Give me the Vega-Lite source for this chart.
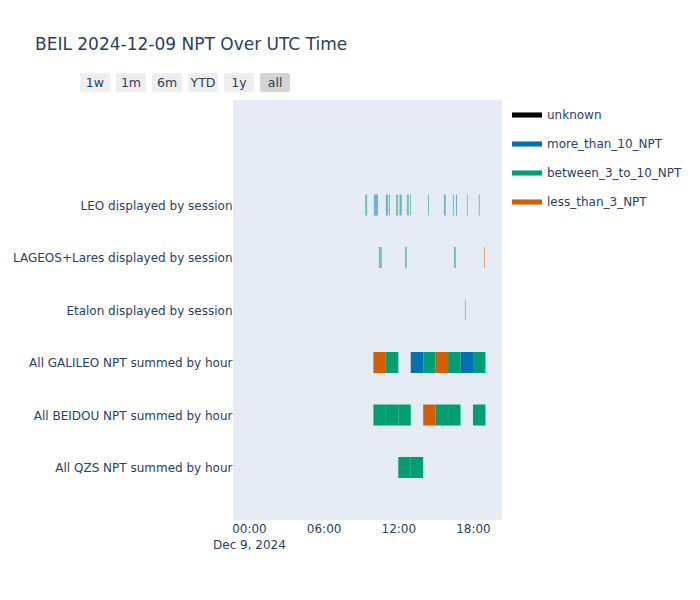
{
  "$schema": "https://vega.github.io/schema/vega-lite/v6.json",
  "background": "white",
  "padding": {"left": 12, "top": 36, "right": 5, "bottom": 5},
  "title": {"text": "BEIL 2024-12-09 NPT Over UTC Time", "anchor": "start", "frame": "group", "fontSize": 17, "fontWeight": "normal", "color": "#2a3f5f", "font": "DejaVu Sans", "dx": -198, "offset": 19},
  "config": {"font": "DejaVu Sans", "view": {"stroke": null}},
  "datasets": {
    "buttons": [
      {"label": "1w"}, {"label": "1m"}, {"label": "6m"}, {"label": "YTD"}, {"label": "1y"}, {"label": "all"}
    ],
    "hourly": [
      {"row": "All GALILEO NPT summed by hour", "start": "2024-12-09T10:00:00Z", "end": "2024-12-09T11:00:00Z", "npt": "less_than_3_NPT"},
      {"row": "All GALILEO NPT summed by hour", "start": "2024-12-09T11:00:00Z", "end": "2024-12-09T12:00:00Z", "npt": "between_3_to_10_NPT"},
      {"row": "All GALILEO NPT summed by hour", "start": "2024-12-09T13:00:00Z", "end": "2024-12-09T14:00:00Z", "npt": "more_than_10_NPT"},
      {"row": "All GALILEO NPT summed by hour", "start": "2024-12-09T14:00:00Z", "end": "2024-12-09T15:00:00Z", "npt": "between_3_to_10_NPT"},
      {"row": "All GALILEO NPT summed by hour", "start": "2024-12-09T15:00:00Z", "end": "2024-12-09T16:00:00Z", "npt": "less_than_3_NPT"},
      {"row": "All GALILEO NPT summed by hour", "start": "2024-12-09T16:00:00Z", "end": "2024-12-09T17:00:00Z", "npt": "between_3_to_10_NPT"},
      {"row": "All GALILEO NPT summed by hour", "start": "2024-12-09T17:00:00Z", "end": "2024-12-09T18:00:00Z", "npt": "more_than_10_NPT"},
      {"row": "All GALILEO NPT summed by hour", "start": "2024-12-09T18:00:00Z", "end": "2024-12-09T19:00:00Z", "npt": "between_3_to_10_NPT"},
      {"row": "All BEIDOU NPT summed by hour", "start": "2024-12-09T10:00:00Z", "end": "2024-12-09T11:00:00Z", "npt": "between_3_to_10_NPT"},
      {"row": "All BEIDOU NPT summed by hour", "start": "2024-12-09T11:00:00Z", "end": "2024-12-09T12:00:00Z", "npt": "between_3_to_10_NPT"},
      {"row": "All BEIDOU NPT summed by hour", "start": "2024-12-09T12:00:00Z", "end": "2024-12-09T13:00:00Z", "npt": "between_3_to_10_NPT"},
      {"row": "All BEIDOU NPT summed by hour", "start": "2024-12-09T14:00:00Z", "end": "2024-12-09T15:00:00Z", "npt": "less_than_3_NPT"},
      {"row": "All BEIDOU NPT summed by hour", "start": "2024-12-09T15:00:00Z", "end": "2024-12-09T16:00:00Z", "npt": "between_3_to_10_NPT"},
      {"row": "All BEIDOU NPT summed by hour", "start": "2024-12-09T16:00:00Z", "end": "2024-12-09T17:00:00Z", "npt": "between_3_to_10_NPT"},
      {"row": "All BEIDOU NPT summed by hour", "start": "2024-12-09T18:00:00Z", "end": "2024-12-09T19:00:00Z", "npt": "between_3_to_10_NPT"},
      {"row": "All QZS NPT summed by hour", "start": "2024-12-09T12:00:00Z", "end": "2024-12-09T13:00:00Z", "npt": "between_3_to_10_NPT"},
      {"row": "All QZS NPT summed by hour", "start": "2024-12-09T13:00:00Z", "end": "2024-12-09T14:00:00Z", "npt": "between_3_to_10_NPT"}
    ],
    "sessions": [
      {"row": "LEO displayed by session", "start": "2024-12-09T09:20:00Z", "end": "2024-12-09T09:30:00Z", "npt": "between_3_to_10_NPT"},
      {"row": "LEO displayed by session", "start": "2024-12-09T10:02:00Z", "end": "2024-12-09T10:12:00Z", "npt": "more_than_10_NPT"},
      {"row": "LEO displayed by session", "start": "2024-12-09T10:12:00Z", "end": "2024-12-09T10:22:00Z", "npt": "more_than_10_NPT"},
      {"row": "LEO displayed by session", "start": "2024-12-09T11:00:00Z", "end": "2024-12-09T11:10:00Z", "npt": "more_than_10_NPT"},
      {"row": "LEO displayed by session", "start": "2024-12-09T11:14:00Z", "end": "2024-12-09T11:20:00Z", "npt": "between_3_to_10_NPT"},
      {"row": "LEO displayed by session", "start": "2024-12-09T11:49:00Z", "end": "2024-12-09T11:59:00Z", "npt": "between_3_to_10_NPT"},
      {"row": "LEO displayed by session", "start": "2024-12-09T12:06:00Z", "end": "2024-12-09T12:17:00Z", "npt": "more_than_10_NPT"},
      {"row": "LEO displayed by session", "start": "2024-12-09T12:41:00Z", "end": "2024-12-09T12:51:00Z", "npt": "between_3_to_10_NPT"},
      {"row": "LEO displayed by session", "start": "2024-12-09T12:56:00Z", "end": "2024-12-09T13:01:00Z", "npt": "between_3_to_10_NPT"},
      {"row": "LEO displayed by session", "start": "2024-12-09T14:23:00Z", "end": "2024-12-09T14:28:00Z", "npt": "between_3_to_10_NPT"},
      {"row": "LEO displayed by session", "start": "2024-12-09T15:40:00Z", "end": "2024-12-09T15:49:00Z", "npt": "more_than_10_NPT"},
      {"row": "LEO displayed by session", "start": "2024-12-09T16:23:00Z", "end": "2024-12-09T16:28:00Z", "npt": "between_3_to_10_NPT"},
      {"row": "LEO displayed by session", "start": "2024-12-09T16:38:00Z", "end": "2024-12-09T16:43:00Z", "npt": "more_than_10_NPT"},
      {"row": "LEO displayed by session", "start": "2024-12-09T17:31:00Z", "end": "2024-12-09T17:35:00Z", "npt": "between_3_to_10_NPT"},
      {"row": "LEO displayed by session", "start": "2024-12-09T18:28:00Z", "end": "2024-12-09T18:33:00Z", "npt": "between_3_to_10_NPT"},
      {"row": "LAGEOS+Lares displayed by session", "start": "2024-12-09T10:26:00Z", "end": "2024-12-09T10:41:00Z", "npt": "between_3_to_10_NPT"},
      {"row": "LAGEOS+Lares displayed by session", "start": "2024-12-09T12:32:00Z", "end": "2024-12-09T12:41:00Z", "npt": "between_3_to_10_NPT"},
      {"row": "LAGEOS+Lares displayed by session", "start": "2024-12-09T16:28:00Z", "end": "2024-12-09T16:38:00Z", "npt": "between_3_to_10_NPT"},
      {"row": "LAGEOS+Lares displayed by session", "start": "2024-12-09T18:53:00Z", "end": "2024-12-09T18:58:00Z", "npt": "less_than_3_NPT"},
      {"row": "Etalon displayed by session", "start": "2024-12-09T17:21:00Z", "end": "2024-12-09T17:26:00Z", "npt": "less_than_3_NPT"}
    ]
  },
  "vconcat": [
    {
      "width": 57,
      "height": 19,
      "data": {"name": "buttons"},
      "layer": [
        {
          "mark": {"type": "bar", "cornerRadius": 2},
          "encoding": {
            "x": {"field": "label", "type": "nominal", "sort": null, "scale": {"range": [-153, 57], "paddingInner": 0.17, "paddingOuter": 0}, "axis": null},
            "fill": {"condition": {"test": "datum.label === 'all'", "value": "#d4d4d4"}, "value": "#eeeeee"}
          }
        },
        {
          "mark": {"type": "text", "fontSize": 12.5, "color": "#2a3f5f", "font": "DejaVu Sans"},
          "encoding": {
            "x": {"field": "label", "type": "nominal", "sort": null, "axis": null},
            "text": {"field": "label"}
          }
        }
      ]
    },
    {
      "width": 269,
      "height": 420,
      "view": {"fill": "#e5ecf6", "stroke": null},
      "encoding": {
        "x": {"field": "start", "type": "temporal", "title": null,
          "scale": {"type": "utc", "domain": ["2024-12-08T22:43:00Z", "2024-12-09T20:20:00Z"]},
          "axis": {"domain": false, "ticks": false, "tickSize": 0, "grid": false, "labelColor": "#2a3f5f", "labelFontSize": 12, "labelPadding": 3, "labelLineHeight": 16, "labelFlush": false, "labelOverlap": false,
            "values": [1733702400000, 1733724000000, 1733745600000, 1733767200000],
            "labelExpr": "utchours(datum.value) == 0 ? [utcFormat(datum.value, '%H:%M'), utcFormat(datum.value, '%b %-d, %Y')] : utcFormat(datum.value, '%H:%M')"}},
        "x2": {"field": "end"},
        "y": {"field": "row", "type": "nominal", "title": null,
          "scale": {"type": "point", "padding": 0, "domain": ["", " ", "LEO displayed by session", "LAGEOS+Lares displayed by session", "Etalon displayed by session", "All GALILEO NPT summed by hour", "All BEIDOU NPT summed by hour", "All QZS NPT summed by hour", "  "]},
          "axis": {"domain": false, "ticks": false, "tickSize": 0, "grid": false, "labelColor": "#2a3f5f", "labelFontSize": 12, "labelPadding": 1, "labelLimit": 0}},
        "color": {"field": "npt", "type": "nominal",
          "scale": {"domain": ["unknown", "more_than_10_NPT", "between_3_to_10_NPT", "less_than_3_NPT"], "range": ["#000000", "#0072B2", "#009E73", "#D55E00"]},
          "legend": {"title": null, "orient": "right", "offset": 10, "symbolType": "M-1,-0.17L1,-0.17L1,0.17L-1,0.17Z", "symbolSize": 900, "symbolStrokeWidth": 0, "symbolOpacity": 1, "labelFontSize": 12, "labelColor": "#2a3f5f", "labelOffset": 5, "rowPadding": 8}}
      },
      "layer": [
        {"data": {"name": "sessions"}, "mark": {"type": "bar", "size": 21, "opacity": 0.5}},
        {"data": {"name": "hourly"}, "mark": {"type": "bar", "size": 21, "opacity": 1}}
      ]
    }
  ],
  "resolve": {"scale": {"color": "independent"}, "legend": {"color": "independent"}},
  "spacing": 2
}
